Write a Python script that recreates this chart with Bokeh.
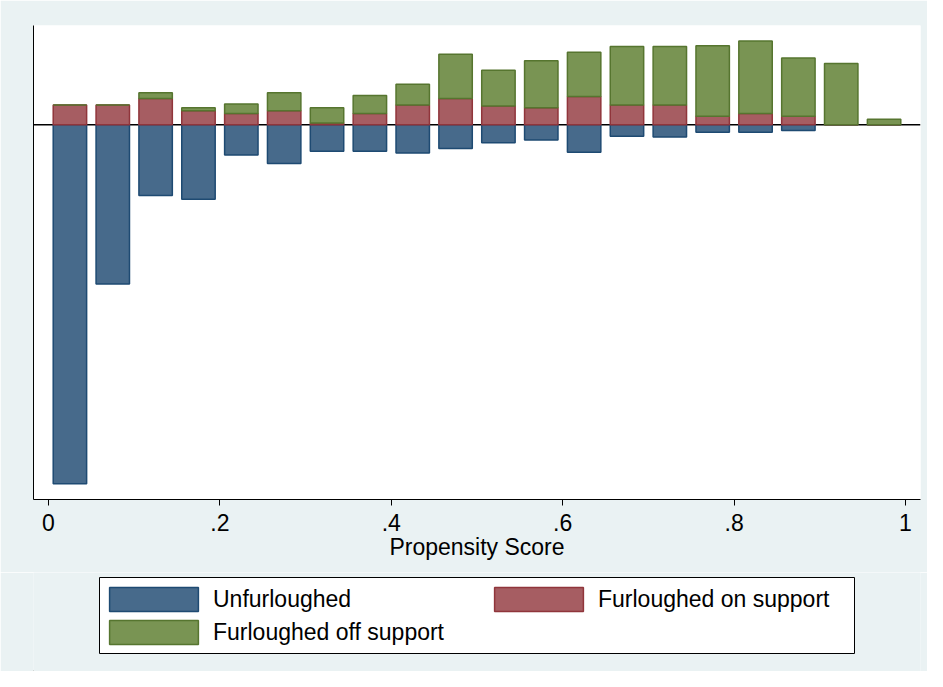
from bokeh.plotting import figure
from bokeh.layouts import column
from bokeh.models import (Range1d, FixedTicker, Span, Legend, LegendItem, ColumnDataSource,
                          BoxAnnotation)
from bokeh.embed import file_html
from bokeh.resources import INLINE

# ---- data (fractions of each group per propensity-score bin) ----
bin_centers = [0.025, 0.075, 0.125, 0.175, 0.225, 0.275, 0.325, 0.375, 0.425, 0.475,
               0.525, 0.575, 0.625, 0.675, 0.725, 0.775, 0.825, 0.875, 0.925, 0.975]
unfurloughed = [0.381, 0.169, 0.075, 0.079, 0.032, 0.041, 0.028, 0.028, 0.030, 0.025,
                0.019, 0.016, 0.029, 0.012, 0.013, 0.008, 0.008, 0.006, 0.0, 0.0]
furl_on_support = [0.021, 0.021, 0.028, 0.015, 0.012, 0.015, 0.002, 0.012, 0.021, 0.028,
                   0.020, 0.018, 0.030, 0.021, 0.021, 0.009, 0.012, 0.009, 0.0, 0.0]
furl_off_support = [0.0, 0.0, 0.006, 0.003, 0.010, 0.019, 0.016, 0.019, 0.022, 0.047,
                    0.038, 0.050, 0.047, 0.062, 0.062, 0.075, 0.077, 0.062, 0.065, 0.006]
x_ticks = [0, 0.2, 0.4, 0.6, 0.8, 1.0]
x_tick_labels = ["0", ".2", ".4", ".6", ".8", "1"]
x_title = "Propensity Score"
series_names = ["Unfurloughed", "Furloughed on support", "Furloughed off support"]

FONT = "Liberation Sans"
BG = "#EAF2F3"
STY = {
    "u": dict(fill_color="#476A8B", line_color="#1E4A72", line_width=1.5),
    "on": dict(fill_color="#A65D62", line_color="#90353B", line_width=1.5),
    "off": dict(fill_color="#799453", line_color="#56752F", line_width=1.5),
}

src = ColumnDataSource(dict(
    x=bin_centers,
    neg_u=[-v for v in unfurloughed],
    on=furl_on_support,
    tot=[a + b for a, b in zip(furl_on_support, furl_off_support)],
))

W = 927
H_TOP = 572
H_LEG = 99

p = figure(width=W, height=H_TOP, output_backend="svg", toolbar_location=None,
           x_range=Range1d(-0.0175, 1.0175), y_range=Range1d(-0.3976, 0.1054),
           min_border_left=33, min_border_right=7, min_border_top=25,
           min_border_bottom=H_TOP - 499)
p.background_fill_color = "white"
p.border_fill_color = BG
p.outline_line_color = None
p.grid.visible = False

zero = Span(location=0, dimension="width", line_color="black", line_width=1.5, level="underlay")
p.add_layout(zero)

bw = 0.039
p.vbar(x="x", top=0, bottom="neg_u", width=bw, source=src, **STY["u"])
p.vbar(x="x", top="on", bottom=0, width=bw, source=src, **STY["on"])
p.vbar(x="x", top="tot", bottom="on", width=bw, source=src, **STY["off"])

xa = p.xaxis[0]
xa.ticker = FixedTicker(ticks=x_ticks)
xa.major_label_overrides = {t: l for t, l in zip(x_ticks, x_tick_labels)}
xa.axis_label = x_title
xa.axis_label_text_font = FONT
xa.axis_label_text_font_size = "23px"
xa.axis_label_text_font_style = "normal"
xa.axis_label_text_color = "black"
xa.axis_label_standoff = 0
xa.major_label_text_font = FONT
xa.major_label_text_font_size = "23px"
xa.major_label_text_color = "black"
xa.major_label_standoff = 8
xa.major_tick_out = 6
xa.major_tick_in = 0
xa.minor_tick_line_color = None
xa.axis_line_color = "black"
xa.major_tick_line_color = "black"

ya = p.yaxis[0]
ya.ticker = FixedTicker(ticks=[])
ya.major_tick_line_color = None
ya.minor_tick_line_color = None
ya.major_label_text_color = None
ya.axis_line_color = "black"

# ---- legend panel below the chart ----
p2 = figure(width=W, height=H_LEG, output_backend="svg", toolbar_location=None,
            x_range=Range1d(0, 1), y_range=Range1d(0, 1),
            x_axis_location=None, y_axis_location=None, title_location=None,
            min_border_left=33, min_border_right=7, min_border_top=0, min_border_bottom=0)
p2.background_fill_color = BG
p2.border_fill_color = BG
p2.outline_line_color = None
p2.grid.visible = False
dummy = ColumnDataSource(dict(x=[-10.0], top=[0.0]))
d_u = p2.vbar(x="x", top="top", width=0.1, source=dummy, **STY["u"])
d_on = p2.vbar(x="x", top="top", width=0.1, source=dummy, **STY["on"])
d_off = p2.vbar(x="x", top="top", width=0.1, source=dummy, **STY["off"])

box = BoxAnnotation(left=66, right=821, top=94, bottom=18,
                    left_units="screen", right_units="screen",
                    top_units="screen", bottom_units="screen",
                    fill_color="white", fill_alpha=1.0,
                    line_color="black", line_width=1, line_alpha=1.0)
p2.add_layout(box)

common = dict(label_text_font=FONT, label_text_font_size="23px", label_text_color="black",
              glyph_width=111, glyph_height=30, label_height=24, label_standoff=4,
              padding=0, spacing=3, margin=0,
              border_line_alpha=0, background_fill_alpha=0)

leg1 = Legend(items=[LegendItem(label=series_names[0], renderers=[d_u]),
                     LegendItem(label=series_names[2], renderers=[d_off])],
              location=(65, 24), **common)
leg2 = Legend(items=[LegendItem(label=series_names[1], renderers=[d_on])],
              location=(450, 57), **common)
p2.add_layout(leg1)
p2.add_layout(leg2)

layout = column(p, p2, spacing=0)
open("out.html", "w").write(file_html(layout, INLINE))
